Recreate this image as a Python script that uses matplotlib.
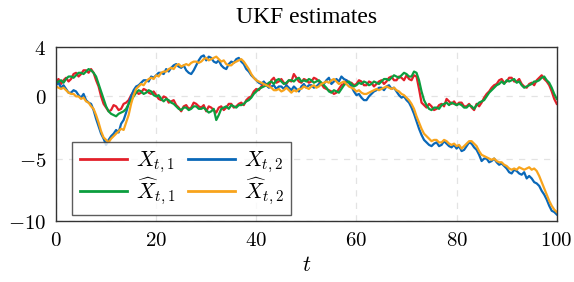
import matplotlib
matplotlib.use("Agg")
import matplotlib.pyplot as plt
import numpy as np
from matplotlib.ticker import FuncFormatter

plt.rcParams["mathtext.fontset"] = "cm"

# time grid, half steps
t = np.arange(0, 100.5, 0.5)

x1 = [1.2, 1.4, 1.0, 1.3, 1.5, 1.2, 1.4, 1.8, 1.9, 1.6,
      1.8, 2.1, 2.1, 1.9, 2.2, 1.9, 1.3, 0.8, 0.0, -0.6,
      -0.9, -1.2, -1.1, -0.7, -0.8, -1.1, -1.0, -0.6, -0.5, -0.3,
      0.1, 0.4, 0.4, 0.2, 0.3, 0.6, 0.5, 0.3, 0.2, 0.4,
      0.1, -0.2, -0.3, 0.0, -0.1, -0.5, -0.4, -0.3, -0.7, -0.9,
      -1.2, -0.8, -0.7, -1.0, -0.9, -0.5, -0.6, -0.8, -0.9, -0.7,
      -1.2, -0.8, -0.9, -1.1, -1.3, -0.9, -0.8, -1.1, -0.9, -0.6,
      -0.6, -0.9, -0.8, -0.6, -0.5, -0.7, -0.3, -0.1, 0.0, 0.4,
      0.6, 0.5, 0.8, 1.1, 1.0, 0.8, 1.3, 1.5, 1.1, 1.2,
      1.4, 1.1, 1.0, 1.3, 1.2, 1.8, 1.5, 1.2, 1.1, 1.4,
      1.3, 1.1, 1.2, 1.5, 1.4, 1.2, 1.0, 0.7, 0.6, 0.5,
      0.4, 0.2, 0.3, 0.6, 0.9, 1.0, 1.3, 1.1, 1.1, 0.9,
      1.0, 1.3, 1.2, 0.9, 0.9, 1.2, 1.1, 0.8, 1.0, 1.2,
      1.3, 1.0, 1.2, 1.5, 1.6, 1.3, 1.3, 1.6, 1.5, 1.3,
      1.7, 1.4, 1.3, 1.7, 1.6, 0.6, -0.5, -0.7, -0.9, -0.6,
      -0.8, -1.1, -1.0, -0.7, -0.6, -0.8, -0.2, -0.4, -0.6, -0.4,
      -0.7, -0.5, -0.5, -0.8, -0.8, -0.6, -0.9, -1.1, -0.6, -0.8,
      -0.5, -0.1, 0.2, 0.4, 0.7, 0.9, 1.0, 1.3, 1.4, 1.1,
      1.2, 1.5, 1.5, 1.2, 1.2, 1.4, 1.0, 0.8, 0.7, 1.0,
      1.1, 0.9, 1.3, 1.5, 1.7, 1.4, 1.2, 0.9, 0.4, -0.2,
      -0.6]

x1_hat = [1.1, 1.2, 1.3, 1.1, 1.4, 1.6, 1.6, 1.5, 1.7, 1.9,
          1.9, 1.8, 2.0, 2.2, 2.1, 1.9, 1.6, 1.0, 0.4, -0.2,
          -0.8, -1.2, -1.4, -1.5, -1.6, -1.4, -1.3, -1.2, -1.0, -0.6,
          -0.3, 0.0, 0.3, 0.5, 0.4, 0.2, 0.3, 0.5, 0.4, 0.1,
          0.0, 0.1, -0.2, -0.4, -0.2, -0.3, -0.5, -0.6, -0.8, -1.0,
          -1.1, -0.9, -0.9, -1.1, -1.0, -0.8, -0.8, -1.0, -1.0, -0.9,
          -1.1, -1.3, -1.2, -1.0, -1.9, -1.5, -1.0, -0.9, -0.8, -1.0,
          -0.7, -0.8, -0.9, -0.7, -0.7, -0.6, -0.4, -0.3, -0.1, 0.2,
          0.4, 0.6, 0.7, 0.8, 0.9, 1.1, 1.2, 1.0, 1.3, 1.4,
          1.2, 1.0, 1.1, 1.3, 1.3, 1.2, 1.4, 1.5, 1.2, 1.3,
          1.2, 1.4, 1.3, 1.1, 1.2, 1.3, 1.1, 0.9, 0.7, 0.4,
          0.3, 0.5, 0.4, 0.3, 0.6, 0.9, 1.1, 1.2, 1.0, 0.8,
          0.9, 1.1, 1.0, 1.2, 1.1, 0.9, 1.0, 1.2, 1.1, 1.0,
          1.2, 1.4, 1.4, 1.3, 1.5, 1.7, 1.6, 1.5, 1.7, 1.9,
          1.8, 1.6, 1.6, 2.0, 1.9, 1.3, 0.4, -0.3, -0.7, -1.0,
          -1.1, -0.9, -0.9, -1.0, -0.7, -0.6, -0.5, -0.7, -0.5, -0.6,
          -0.7, -0.6, -0.7, -0.9, -0.9, -0.7, -0.8, -1.0, -0.7, -0.5,
          -0.4, -0.3, 0.0, 0.3, 0.5, 0.7, 0.9, 1.0, 1.2, 1.0,
          1.3, 1.2, 1.3, 1.4, 1.1, 1.2, 0.9, 0.7, 0.8, 0.9,
          1.0, 1.2, 1.2, 1.3, 1.5, 1.6, 1.3, 1.1, 0.7, 0.2,
          -0.2]

x2 = [0.9, 1.1, 0.7, 0.9, 0.6, 0.3, 0.3, 0.5, 0.4, 0.1,
      -0.1, 0.2, -0.3, -0.5, -0.6, -1.1, -1.8, -2.4, -3.0, -3.4,
      -3.9, -3.5, -3.2, -3.0, -2.7, -2.9, -2.2, -1.9, -1.3, -0.6,
      0.0, 0.5, 0.8, 0.9, 1.1, 1.3, 1.3, 1.2, 1.6, 1.5,
      1.7, 1.9, 1.9, 1.8, 2.2, 2.0, 2.3, 2.5, 2.6, 2.4,
      2.3, 2.5, 2.1, 1.9, 1.8, 2.1, 2.5, 2.9, 3.2, 3.3,
      2.9, 3.2, 3.1, 2.8, 2.7, 2.9, 2.5, 2.3, 2.2, 2.6,
      2.8, 2.7, 3.0, 3.1, 2.8, 2.6, 2.2, 2.0, 1.7, 1.5,
      1.3, 1.1, 1.0, 1.2, 0.9, 0.7, 0.8, 0.9, 0.6, 0.8,
      0.8, 0.6, 0.9, 0.7, 0.5, 0.8, 0.6, 0.4, 0.8, 1.0,
      0.7, 0.9, 0.9, 0.7, 0.8, 1.0, 1.1, 1.0, 1.3, 1.5,
      1.0, 1.2, 1.4, 1.2, 1.6, 1.4, 1.3, 1.1, 0.8, 0.4,
      0.1, 0.2, -0.1, -0.3, -0.3, 0.0, 0.2, 0.4, 0.5, 0.7,
      0.7, 0.5, 0.8, 0.9, 0.6, 0.7, 0.4, 0.1, -0.1, 0.0,
      -0.3, -0.5, -0.9, -1.4, -2.0, -2.6, -3.1, -3.5, -3.7, -3.9,
      -4.0, -3.8, -3.7, -4.0, -3.9, -3.6, -3.8, -4.0, -4.1, -3.9,
      -4.2, -4.0, -4.4, -4.3, -4.0, -3.7, -3.8, -4.1, -4.3, -4.7,
      -5.2, -5.0, -5.0, -5.3, -5.2, -5.0, -5.3, -5.5, -5.4, -5.6,
      -5.8, -6.1, -6.2, -5.9, -6.0, -6.2, -6.3, -6.1, -6.6, -6.4,
      -6.6, -6.9, -7.0, -7.2, -7.6, -7.9, -8.3, -8.8, -9.2, -9.3,
      -9.5]

x2_hat = [0.8, 0.7, 0.6, 0.7, 0.5, 0.3, 0.2, 0.2, 0.0, 0.0,
          -0.2, -0.1, -0.4, -0.5, -0.8, -1.0, -1.5, -2.1, -2.8, -3.3,
          -3.5, -3.7, -3.4, -3.2, -3.0, -2.8, -2.6, -2.7, -2.1, -1.5,
          -0.6, 0.1, 0.6, 0.8, 1.0, 0.9, 1.2, 1.4, 1.5, 1.4,
          1.7, 1.6, 1.9, 2.0, 2.0, 2.2, 2.3, 2.2, 2.5, 2.6,
          2.4, 2.5, 2.6, 2.5, 2.7, 2.8, 2.8, 2.7, 2.8, 3.0,
          3.1, 2.9, 3.0, 3.1, 3.2, 3.0, 2.8, 2.9, 2.6, 2.5,
          2.5, 2.7, 2.8, 2.9, 3.0, 2.8, 2.5, 2.2, 1.8, 1.5,
          1.3, 1.2, 1.1, 1.0, 0.9, 0.8, 0.7, 0.5, 0.5, 0.6,
          0.4, 0.5, 0.7, 0.5, 0.3, 0.5, 0.4, 0.6, 0.6, 0.8,
          0.7, 0.6, 0.8, 0.9, 0.7, 0.8, 1.0, 1.1, 1.2, 1.1,
          1.3, 1.4, 1.2, 1.0, 1.1, 1.2, 1.0, 0.8, 0.7, 0.6,
          0.4, 0.5, 0.3, 0.2, 0.2, 0.3, 0.4, 0.5, 0.6, 0.5,
          0.6, 0.7, 0.8, 0.7, 0.6, 0.7, 0.5, 0.4, 0.2, 0.1,
          -0.1, -0.3, -0.6, -1.0, -1.6, -2.1, -2.6, -3.0, -3.2, -3.4,
          -3.6, -3.5, -3.5, -3.7, -3.7, -3.5, -3.6, -3.8, -3.9, -3.8,
          -4.0, -3.9, -4.2, -4.0, -3.8, -3.6, -3.6, -3.8, -4.0, -4.4,
          -4.7, -4.8, -4.9, -5.0, -5.1, -5.0, -5.2, -5.3, -5.3, -5.5,
          -5.6, -5.8, -5.9, -5.8, -5.9, -5.7, -5.8, -5.9, -5.8, -5.7,
          -5.9, -5.8, -6.0, -6.4, -6.9, -7.4, -7.9, -8.4, -8.8, -9.1,
          -9.3]

x_ticks = [0, 20, 40, 60, 80, 100]
y_ticks = [-10, -5, 0, 4]

fig = plt.figure(figsize=(5.74, 2.82), dpi=100)
ax = fig.add_axes([0.0976, 0.2174, 0.8723, 0.617])

l1, = ax.plot(t, x1, color="#e3202a", lw=1.6, label=r"$X_{t,1}$")
l2, = ax.plot(t, x2, color="#0a68b8", lw=1.6, label=r"$X_{t,2}$")
l3, = ax.plot(t, x1_hat, color="#0c9e3e", lw=1.6, label=r"$\widehat{X}_{t,1}$")
l4, = ax.plot(t, x2_hat, color="#f8a41c", lw=1.6, label=r"$\widehat{X}_{t,2}$")

ax.set_xlim(0, 100)
ax.set_ylim(-10, 4)
ax.set_xticks(x_ticks)
ax.set_yticks(y_ticks)
fmt = FuncFormatter(lambda v, p: r"$%d$" % v)
ax.xaxis.set_major_formatter(fmt)
ax.yaxis.set_major_formatter(fmt)
ax.tick_params(length=0, labelsize=15, pad=7)
ax.grid(True, ls=(0, (5, 5)), color="#e3e3e3", lw=0.9)
ax.set_axisbelow(True)
for s in ax.spines.values():
    s.set_color("#333333")
    s.set_linewidth(1.0)

ax.set_xlabel(r"$t$", fontsize=16, labelpad=3)
ax.set_title("UKF estimates", fontsize=17, family="Liberation Serif", pad=17)

leg = ax.legend(handles=[l1, l3, l2, l4], ncol=2, loc="lower left",
                bbox_to_anchor=(0.032, 0.033), borderaxespad=0,
                fontsize=15.5, frameon=True, fancybox=False,
                edgecolor="#333333", handlelength=2.2,
                columnspacing=0.6, labelspacing=0.05, borderpad=0.35,
                handletextpad=0.4)
leg.get_frame().set_linewidth(1.0)
for h in leg.legend_handles:
    h.set_linewidth(2)

fig.savefig("out.png", dpi=100)
